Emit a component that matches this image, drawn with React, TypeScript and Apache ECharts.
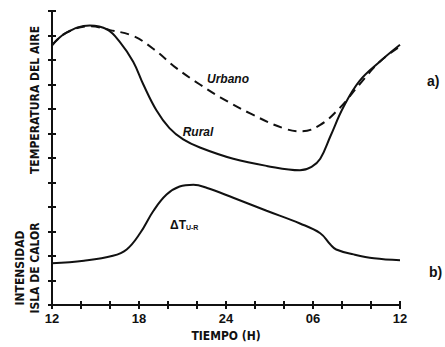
import React, { useEffect, useRef } from "react";
import * as echarts from "echarts";

// hours since 12:00 (0..24)
const ruralX = [0, 1.0, 2.6, 3.8, 4.7, 5.6, 6.3, 7.2, 8.1, 9.05, 10.2, 12.5, 14.8, 17.1, 17.9, 18.5, 19.2, 20.1, 21.2, 22.6, 24];
const ruralY = [10.6, 11.12, 11.41, 11.25, 10.72, 9.93, 9.0, 7.95, 7.22, 6.76, 6.43, 5.97, 5.68, 5.5, 5.64, 5.97, 6.89, 8.08, 9.14, 9.93, 10.62];

const urbanX = [0, 1.0, 2.6, 4.0, 5.6, 7.0, 8.6, 10.2, 11.6, 13.7, 15.95, 17.2, 18.5, 19.9, 21.2, 22.6, 24];
const urbanY = [10.6, 11.12, 11.38, 11.22, 10.98, 10.45, 9.66, 9.0, 8.48, 7.81, 7.22, 7.09, 7.35, 8.08, 9.0, 9.93, 10.55];

const deltaX = [0, 2.2, 4.2, 5.15, 6.07, 7.0, 7.9, 8.8, 9.75, 10.7, 12.5, 14.8, 17.1, 18.5, 19.2, 19.6, 20.8, 22.2, 24];
const deltaY = [1.71, 1.81, 2.01, 2.27, 2.93, 3.85, 4.51, 4.84, 4.91, 4.78, 4.38, 3.85, 3.33, 2.93, 2.47, 2.27, 2.07, 1.91, 1.83];

const tickLabels: Record<number, string> = { 0: "12", 6: "18", 12: "24", 18: "06", 24: "12" };

const zip = (xs: number[], ys: number[]) => xs.map((x, i) => [x, ys[i]]);

export default function App() {
  const ref = useRef<HTMLDivElement>(null);
  useEffect(() => {
    if (!ref.current) return;
    const chart = echarts.init(ref.current, null, { renderer: "svg" });
    const axisLine = { show: true, lineStyle: { color: "#111", width: 2 } };
    const axisTick = { show: true, inside: true, length: 4, lineStyle: { color: "#111", width: 2 } };
    const labelFont = "Liberation Sans Narrow, DejaVu Sans Condensed, sans-serif";
    chart.setOption({
      animation: false,
      backgroundColor: "#fff",
      grid: { left: 52, right: 45, top: 11, bottom: 33 },
      xAxis: [
        {
          type: "value", min: 0, max: 24, interval: 2, position: "bottom",
          axisLine, axisTick, splitLine: { show: false },
          axisLabel: {
            show: true, margin: 7, color: "#111", fontSize: 13, fontWeight: "bold",
            fontFamily: "Liberation Sans, Arial, sans-serif",
            showMaxLabel: true, showMinLabel: true,
            formatter: (v: number) => tickLabels[v] ?? "",
          },
          name: "TIEMPO (H)", nameLocation: "middle", nameGap: 23,
          nameTextStyle: { color: "#111", fontSize: 12, fontWeight: "bold", fontFamily: labelFont },
        },
        {
          type: "value", min: 0, max: 24, interval: 2, position: "top",
          axisLine, axisTick, axisLabel: { show: false }, splitLine: { show: false },
        },
      ],
      yAxis: [
        {
          type: "value", min: 0, max: 12, interval: 1, position: "left",
          axisLine, axisTick, axisLabel: { show: false }, splitLine: { show: false },
        },
        {
          type: "value", min: 0, max: 12, interval: 1, position: "right",
          axisLine, axisTick, axisLabel: { show: false }, splitLine: { show: false },
        },
      ],
      series: [
        {
          type: "line", name: "Rural", data: zip(ruralX, ruralY), smooth: 0.4, showSymbol: false,
          lineStyle: { color: "#111", width: 2 },
        },
        {
          type: "line", name: "Urbano", data: zip(urbanX, urbanY), smooth: 0.4, showSymbol: false,
          lineStyle: { color: "#111", width: 2, type: [9, 6] },
        },
        {
          type: "line", name: "ΔT", data: zip(deltaX, deltaY), smooth: 0.4, showSymbol: false,
          lineStyle: { color: "#111", width: 2 },
        },
      ],
      graphic: [
        {
          type: "text", x: 228, y: 79,
          style: { text: "Urbano", fill: "#111", font: "italic bold 12px Liberation Sans, Arial, sans-serif", align: "center", verticalAlign: "middle" },
        },
        {
          type: "text", x: 198, y: 132,
          style: { text: "Rural", fill: "#111", font: "italic bold 12px Liberation Sans, Arial, sans-serif", align: "center", verticalAlign: "middle" },
        },
        {
          type: "text", x: 170, y: 225,
          style: {
            text: "{a|ΔT}{b|U-R}", fill: "#111", verticalAlign: "middle",
            rich: {
              a: { fontSize: 12, fontWeight: "bold", fontFamily: "Liberation Sans, Arial, sans-serif", fill: "#111" },
              b: { fontSize: 7, fontWeight: "bold", fontFamily: "Liberation Sans, Arial, sans-serif", fill: "#111", padding: [4, 0, 0, 0] },
            },
          },
        },
        {
          type: "text", x: 427, y: 81,
          style: { text: "a)", fill: "#111", font: "bold 14px Liberation Sans, Arial, sans-serif", verticalAlign: "middle" },
        },
        {
          type: "text", x: 429, y: 272,
          style: { text: "b)", fill: "#111", font: "bold 14px Liberation Sans, Arial, sans-serif", verticalAlign: "middle" },
        },
        {
          type: "text", x: 35, y: 100, rotation: Math.PI / 2,
          style: { text: "TEMPERATURA DEL AIRE", fill: "#111", font: `bold 12px ${labelFont}`, align: "center", verticalAlign: "middle" },
        },
        {
          type: "text", x: 20, y: 268, rotation: Math.PI / 2,
          style: { text: "INTENSIDAD", fill: "#111", font: `bold 12px ${labelFont}`, align: "center", verticalAlign: "middle" },
        },
        {
          type: "text", x: 35, y: 268, rotation: Math.PI / 2,
          style: { text: "ISLA DE CALOR", fill: "#111", font: `bold 12px ${labelFont}`, align: "center", verticalAlign: "middle" },
        },
      ],
    });
    return () => chart.dispose();
  }, []);
  return <div ref={ref} style={{ width: 445, height: 347, position: "absolute", left: 0, top: 0 }} />;
}
